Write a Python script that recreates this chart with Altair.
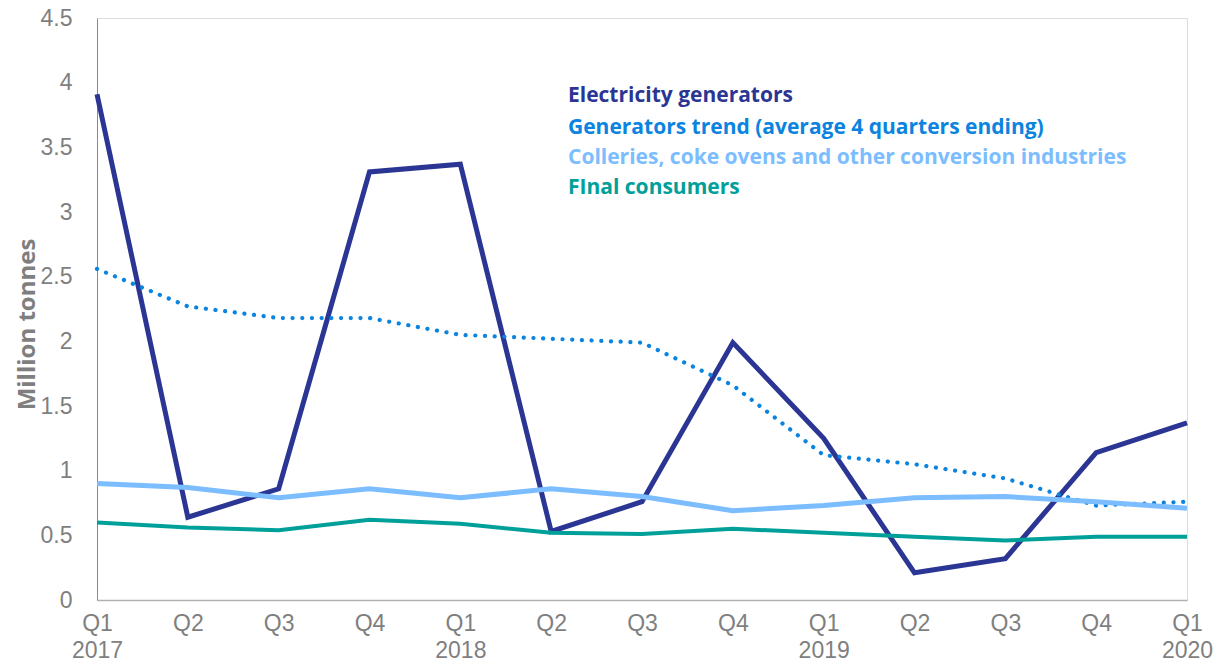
import altair as alt
import pandas as pd

periods = ["Q1 2017", "Q2 2017", "Q3 2017", "Q4 2017",
           "Q1 2018", "Q2 2018", "Q3 2018", "Q4 2018",
           "Q1 2019", "Q2 2019", "Q3 2019", "Q4 2019", "Q1 2020"]

electricity = [3.91, 0.64, 0.86, 3.31, 3.37, 0.53, 0.76, 1.99, 1.25, 0.21, 0.32, 1.14, 1.37]
trend = [2.56, 2.27, 2.18, 2.18, 2.05, 2.02, 1.99, 1.66, 1.12, 1.05, 0.94, 0.73, 0.76]
collieries = [0.90, 0.87, 0.79, 0.86, 0.79, 0.86, 0.80, 0.69, 0.73, 0.79, 0.80, 0.76, 0.71]
final = [0.60, 0.56, 0.54, 0.62, 0.59, 0.52, 0.51, 0.55, 0.52, 0.49, 0.46, 0.49, 0.49]

series_names = ["Electricity generators",
                "Generators trend (average 4 quarters ending)",
                "Colleries, coke ovens and other conversion industries",
                "FInal consumers"]
series_colors = ["#2B3593", "#0B84E0", "#7CBDFF", "#00A09A"]
series_values = [electricity, trend, collieries, final]

rows = []
for name, vals in zip(series_names, series_values):
    for i, (p, v) in enumerate(zip(periods, vals)):
        rows.append({"period": p, "value": v, "series": name, "order": i})
df = pd.DataFrame(rows)

x_enc = alt.X("period:O", sort=periods,
              scale=alt.Scale(type="point", padding=0),
              axis=alt.Axis(title=None, labelAngle=0, ticks=False,
                            labelExpr="split(datum.value, ' ')[0] == 'Q1' ? split(datum.value, ' ') : split(datum.value, ' ')[0]",
                            labelFont="Liberation Sans", labelFontSize=23,
                            labelColor="#7F7F7F", labelPadding=12,
                            labelLineHeight=27, labelBaseline="top",
                            domainColor="#B0B0B0", domainWidth=1.5))
y_enc = alt.Y("value:Q",
              scale=alt.Scale(domain=[0, 4.5], nice=False),
              axis=alt.Axis(title="Million tonnes", values=[0, 0.5, 1, 1.5, 2, 2.5, 3, 3.5, 4, 4.5],
                            format="~g",
                            grid=False, ticks=False, labelPadding=25,
                            labelFont="Liberation Sans", labelFontSize=23,
                            labelColor="#7F7F7F",
                            titleFont="Open Sans", titleFontSize=24,
                            titleFontWeight="bold", titleColor="#7F7F7F",
                            titleX=-70, titleY=306, titleAngle=-90,
                            titleAlign="center", titleBaseline="middle",
                            domainColor="#8A8A8A", domainWidth=1))
color_enc = alt.Color("series:N",
                      scale=alt.Scale(domain=series_names, range=series_colors),
                      legend=None)

def line_for(name, width, dash=None):
    kw = dict(strokeWidth=width, strokeJoin="miter")
    if dash is not None:
        kw.update(strokeDash=dash, strokeCap="round")
    return alt.Chart(df).transform_filter(
        alt.datum.series == name
    ).mark_line(**kw).encode(x=x_enc, y=y_enc, color=color_enc, order="order:Q")

lines = [
    line_for(series_names[0], 5),
    line_for(series_names[1], 4.2, [0.1, 9.6]),
    line_for(series_names[2], 5),
    line_for(series_names[3], 4),
]

legend_y = [78, 110, 140, 170]
legend_texts = []
for name, ly in zip(series_names, legend_y):
    legend_texts.append(
        alt.Chart(pd.DataFrame({"series": [name]})).mark_text(
            align="left", baseline="middle", font="Open Sans", fontSize=21,
            fontWeight="bold"
        ).encode(
            text="series:N",
            color=color_enc,
            x=alt.value(471),
            y=alt.value(ly),
        )
    )

chart = alt.layer(*lines, *legend_texts).properties(
    width=1090, height=582,
    autosize=alt.AutoSizeParams(type="none"),
    padding={"left": 89, "top": 10, "right": 26, "bottom": 64},
).configure_view(stroke=None).configure(background="white")

chart.save("out.html", embed_options={"renderer": "svg", "actions": False})
